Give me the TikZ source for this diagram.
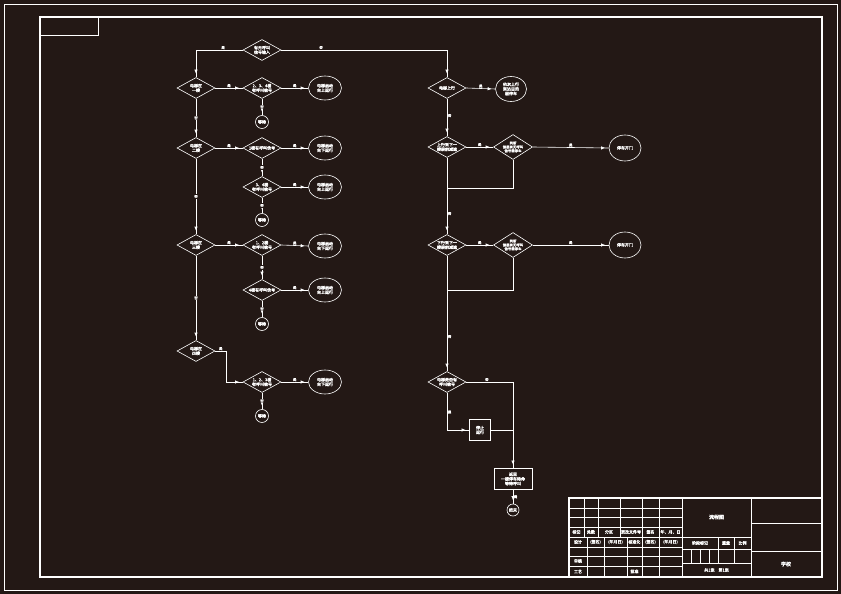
\documentclass[tikz,border=0pt]{standalone}
\usepackage{fontspec}
\newfontfamily\cjk[AutoFakeBold=2.2]{Noto Sans CJK SC}
\usetikzlibrary{shapes.geometric,arrows.meta,decorations.markings}
\definecolor{bgbrown}{RGB}{35,24,21}

\begin{document}
\begin{tikzpicture}[x=1pt, y=-1pt,
        every node/.style={text=white, font=\cjk\bfseries\fontsize{4}{4.6}\selectfont},
        cond/.style={diamond, draw=white, line width=0.6pt, inner sep=0pt, aspect=1.7, minimum width=38pt, minimum height=21pt, align=center},
        act/.style={ellipse, draw=white, line width=0.6pt, inner sep=0pt, minimum width=33pt, minimum height=24pt, align=center},
        waitc/.style={circle, draw=white, line width=0.6pt, inner sep=0pt, minimum size=13pt},
        proc/.style={rectangle, draw=white, line width=0.8pt, inner sep=1pt, align=center},
        lbl/.style={inner sep=0.6pt, font=\cjk\bfseries\fontsize{3.4}{3.8}\selectfont},
        tbtext/.style={inner sep=0pt, font=\cjk\bfseries\fontsize{4}{4.6}\selectfont},
        flow/.style={draw=white, line width=0.6pt},
        arrow/.style={flow, postaction={decorate}, decoration={markings, mark=at position -3.5pt with {\arrow{Latex[length=4pt,width=3.4pt]}}}}
    ]
        % paper and frame
        \useasboundingbox (0,0) rectangle (841,594);
        \fill[bgbrown] (0,0) rectangle (841,594);
        \draw[white, line width=0.4pt] (4,4) rectangle (837,590);
        \draw[white, line width=1.4pt] (40,17) rectangle (822,577);
        \draw[white, line width=0.9pt] (40,17) rectangle (98,35);

        % call check
        \node (call) [cond] at (262,50) {有无呼叫\\信号输入};

        % floor checks
        \node (f1) [cond] at (196,88) {电梯在\\一楼};
        \node (f2) [cond] at (196,148) {电梯在\\二楼};
        \node (f3) [cond] at (196,245) {电梯在\\三楼};
        \node (f4) [cond] at (196,351) {电梯在\\四楼};

        % request checks per floor
        \node (q1) [cond] at (262,88) {2、3、4楼\\有呼叫信号};
        \node (q2) [cond] at (262,148) {1楼有呼叫信号};
        \node (q3) [cond] at (262,187) {3、4楼\\有呼叫信号};
        \node (q4) [cond] at (262,245) {1、2楼\\有呼叫信号};
        \node (q5) [cond] at (262,290) {4楼有呼叫信号};
        \node (q6) [cond] at (262,382) {1、2、3楼\\有呼叫信号};

        % motor actions
        \node (up1) [act] at (325,88) {电梯启动\\向上运行};
        \node (dn2) [act] at (325,148) {电梯启动\\向下运行};
        \node (up3) [act] at (325,187) {电梯启动\\向上运行};
        \node (dn4) [act] at (325,246) {电梯启动\\向下运行};
        \node (up5) [act] at (325,290) {电梯启动\\向上运行};
        \node (dn6) [act] at (325,382) {电梯启动\\向下运行};

        % waiting states
        \node (w1) [waitc] at (262,122) {等待};
        \node (w2) [waitc] at (262,220) {等待};
        \node (w3) [waitc] at (262,324) {等待};
        \node (w4) [waitc] at (262,416) {等待};

        % running branch
        \node (rise) [cond] at (447,88) {电梯上行};
        \node (arr1) [act, minimum width=31pt, minimum height=25pt] at (511,89) {依次上行\\到达目的\\层停车};
        \node (r2) [cond] at (447,147) {上行到下一\\楼层前减速};
        \node (r3) [cond, minimum height=25pt, font=\cjk\bfseries\fontsize{3.4}{3.9}\selectfont] at (513,147) {判断\\该层有无呼叫\\信号需停车};
        \node (stop1) [act, minimum width=32pt, minimum height=26pt] at (625,148) {停车开门};
        \node (r4) [cond] at (447,245) {下行到下一\\楼层前减速};
        \node (r5) [cond, minimum height=25pt, font=\cjk\bfseries\fontsize{3.4}{3.9}\selectfont] at (513,245) {判断\\该层有无呼叫\\信号需停车};
        \node (stop2) [act, minimum width=32pt, minimum height=26pt] at (625,245) {停车开门};
        \node (r6) [cond] at (447,382) {电梯是否有\\呼叫信号};
        \node (halt) [proc, minimum width=21pt, minimum height=21pt] at (480,430) {停止\\运行};
        \node (park) [proc, minimum width=38pt, minimum height=21pt] at (513,479) {返回\\一楼停车待命\\等待呼叫};
        \node (done) [waitc, minimum size=12pt] at (513,510) {结束};

        % joins
        \coordinate (m1) at (447,188);
        \coordinate (m2) at (447,290);

        % connections, left side
        \draw [arrow] (call.west) -| node[lbl, above, pos=0.21] {是} (f1.north);
        \draw [arrow] (f1.south) -- node[lbl, fill=bgbrown] {否} (f2.north);
        \draw [arrow] (f2.south) -- node[lbl, fill=bgbrown] {否} (f3.north);
        \draw [arrow] (f3.south) -- node[lbl, fill=bgbrown] {否} (f4.north);

        \draw [arrow] (f1.east) -- node[lbl, above] {是} (q1.west);
        \draw [arrow] (f2.east) -- node[lbl, above] {是} (q2.west);
        \draw [arrow] (f3.east) -- node[lbl, above] {是} (q4.west);
        \draw [arrow] (f4.east) -- node[lbl, above] {是} ++(11,0) |- (q6.west);

        \draw [arrow] (q1.east) -- node[lbl, above] {是} (up1.west);
        \draw [arrow] (q2.east) -- node[lbl, above] {是} (dn2.west);
        \draw [arrow] (q3.east) -- node[lbl, above] {是} (up3.west);
        \draw [arrow] (q4.east) -- node[lbl, above] {是} (dn4.west);
        \draw [arrow] (q5.east) -- node[lbl, above] {是} (up5.west);
        \draw [arrow] (q6.east) -- node[lbl, above] {是} (dn6.west);

        \draw [arrow] (q1.south) -- node[lbl, fill=bgbrown] {否} (w1.north);
        \draw [arrow] (q2.south) -- node[lbl, fill=bgbrown] {否} (q3.north);
        \draw [arrow] (q3.south) -- node[lbl, fill=bgbrown] {否} (w2.north);
        \draw [arrow] (q4.south) -- node[lbl, fill=bgbrown] {否} (q5.north);
        \draw [arrow] (q5.south) -- node[lbl, fill=bgbrown] {否} (w3.north);
        \draw [arrow] (q6.south) -- node[lbl, fill=bgbrown] {否} (w4.north);

        % connections, right side
        \draw [arrow] (call.east) -| node[lbl, above, pos=0.12] {否} (rise.north);
        \draw [arrow] (rise.east) -- node[lbl, above] {是} (arr1.west);
        \draw [arrow] (rise.south) -- node[lbl, right, pos=0.45] {否} (r2.north);
        \draw [arrow] (r2.east) -- node[lbl, above] {是} (r3.west);
        \draw [arrow] (r3.east) -- node[lbl, above] {是} (stop1.west);
        \draw [flow] (r3.south) |- (m1);
        \draw [arrow] (r2.south) -- node[lbl, right, pos=0.73] {否} (r4.north);
        \draw [arrow] (r4.east) -- node[lbl, above] {是} (r5.west);
        \draw [arrow] (r5.east) -- node[lbl, above] {是} (stop2.west);
        \draw [flow] (r5.south) |- (m2);
        \draw [arrow] (r4.south) -- node[lbl, right, pos=0.7] {否} (r6.north);
        \draw [arrow] (r6.east) -| node[lbl, above, pos=0.22] {否} (park.north);
        \draw [arrow] (r6.south) |- node[lbl, right, pos=0.26] {是} (halt.west);
        \draw [flow] (halt.east) -- (halt.east -| park.north);
        \draw [arrow] (park.south) -- node[lbl, right] {是} (done.north);

        % title block
        \draw[white, line width=1.2pt] (569,498) rectangle (822,577);
        \foreach \y in {508,517,527,547,556,566}
            \draw[white, line width=0.5pt] (569,\y) -- (682,\y);
        \draw[white, line width=1pt] (569,537) -- (682,537);
        \foreach \x in {584,598,620,642,659}
            \draw[white, line width=0.5pt] (\x,498) -- (\x,537);
        \foreach \x in {587,604,627,642,659}
            \draw[white, line width=0.5pt] (\x,537) -- (\x,577);
        \draw[white, line width=1pt] (682,498) -- (682,577);
        \draw[white, line width=1pt] (751,498) -- (751,577);
        \draw[white, line width=1pt] (682,537) -- (751,537);
        \draw[white, line width=0.5pt] (682,549) -- (751,549);
        \draw[white, line width=1pt] (682,563) -- (751,563);
        \foreach \x in {718,734}
            \draw[white, line width=0.5pt] (\x,537) -- (\x,563);
        \foreach \x in {691,700,709}
            \draw[white, line width=0.5pt] (\x,549) -- (\x,563);
        \draw[white, line width=1pt] (751,523) -- (822,523);
        \draw[white, line width=1pt] (751,551) -- (822,551);

        \foreach \t/\x [count=\i] in {标记/576.5, 处数/591, 分区/609, 更改文件号/631, 签名/650.5, 年、月、日/670.5}
            \node (hd\i) [tbtext] at (\x,532) {\t};
        \foreach \t/\x [count=\i] in {设计/578, (签名)/595.5, (年月日)/615.5, 标准化/634.5, (签名)/650.5, (年月日)/670.5}
            \node (sg\i) [tbtext] at (\x,542) {\t};
        \node (chk) [tbtext] at (578,561) {审核};
        \node (tech) [tbtext] at (578,571.5) {工艺};
        \node (appr) [tbtext] at (634.5,571.5) {批准};
        \node (title) [tbtext, font=\cjk\bfseries\fontsize{5}{6}\selectfont] at (716.5,517) {流程图};
        \node (stage) [tbtext] at (700,543) {阶段标记};
        \node (mass) [tbtext] at (726,543) {重量};
        \node (scl) [tbtext] at (742.5,543) {比例};
        \node (sheet) [tbtext] at (716.5,570) {共1张\quad 第1张};
        \node (school) [tbtext, font=\cjk\bfseries\fontsize{5}{6}\selectfont] at (786,564) {学校};
    \end{tikzpicture}
\end{document}
